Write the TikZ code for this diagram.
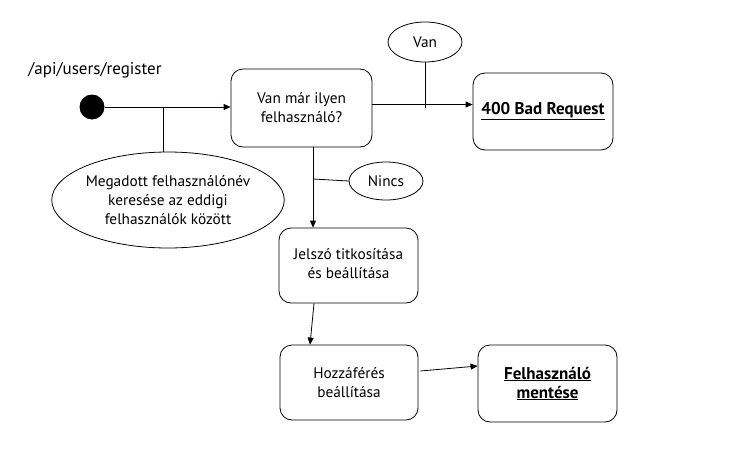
\documentclass[tikz,border=0pt]{standalone}
\usepackage{fontspec}
\setmainfont{PT Sans}
\usetikzlibrary{arrows.meta,shapes.geometric}
\newcommand{\boldline}[1]{\underline{\textbf{\fontsize{17}{19}\selectfont #1}}}
\begin{document}
\begin{tikzpicture}[x=1pt,y=-1pt,
  font=\fontsize{15.3}{19}\selectfont,
  line width=0.8pt,
  stepbox/.style={draw, rounded corners=12pt, align=center, inner sep=2pt},
  note/.style={draw, ellipse, align=center, inner sep=0pt},
  flow/.style={-{Triangle[length=7pt,width=6pt]}},
  link/.style={}]
\useasboundingbox (0,0) rectangle (731,458);

% start state and its label
\node[circle, fill=black, minimum size=25pt, inner sep=0pt] (start) at (92,107) {};
\node[font=\fontsize{17}{19}\selectfont] (api) at (95,70) {/api/users/register};

% activity boxes
\node[stepbox, minimum width=141pt, minimum height=78pt] (check) at (301.5,108) {Van már ilyen\\felhasználó?};
\node[stepbox, minimum width=140pt, minimum height=77pt] (bad) at (543,111.5) {\raisebox{3pt}{\boldline{400 Bad Request}}};
\node[stepbox, minimum width=139pt, minimum height=75pt] (hash) at (348.5,265.5) {\raisebox{3pt}{\begin{tabular}{@{}c@{}}Jelszó titkosítása\\és beállítása\end{tabular}}};
\node[stepbox, minimum width=138pt, minimum height=75pt] (access) at (349,382.5) {Hozzáférés\\beállítása};
\node[stepbox, minimum width=139pt, minimum height=77pt] (save) at (547.5,383.5) {\boldline{Felhasználó}\\\boldline{mentése}};

% annotation ellipses
\node[note, minimum width=222pt, minimum height=96pt] (search) at (168,200) {Megadott felhasználónév\\keresése az eddigi\\felhasználók között};
\node[note, minimum width=74pt, minimum height=40pt] (van) at (425,42) {Van};
\node[note, minimum width=74pt, minimum height=38pt] (nincs) at (386,181) {Nincs};

% junction points where the notes attach
\coordinate (jsearch) at (163,107);
\coordinate (jvan) at (425,108);
\coordinate (jnincs) at (313,179);

% flow
\draw[flow] (start) -- (check.west |- start);
\draw[link] (jsearch) -- (search.north -| jsearch);
\draw[flow] ([yshift=3.5pt]check.east) -- ([yshift=3.5pt]check.east -| bad.west);
\draw[link] (van) -- (jvan);
\draw[flow] ([xshift=11.5pt]check.south) -- ([xshift=-35.5pt]hash.north);
\draw[link] (jnincs) -- (nincs.west);
\draw[flow] ([xshift=-34.5pt]hash.south) -- ([xshift=-39pt]access.north);
\draw[flow] ([xshift=2pt,yshift=11.5pt]access.east) -- ([yshift=17.5pt]save.west);
\end{tikzpicture}
\end{document}
